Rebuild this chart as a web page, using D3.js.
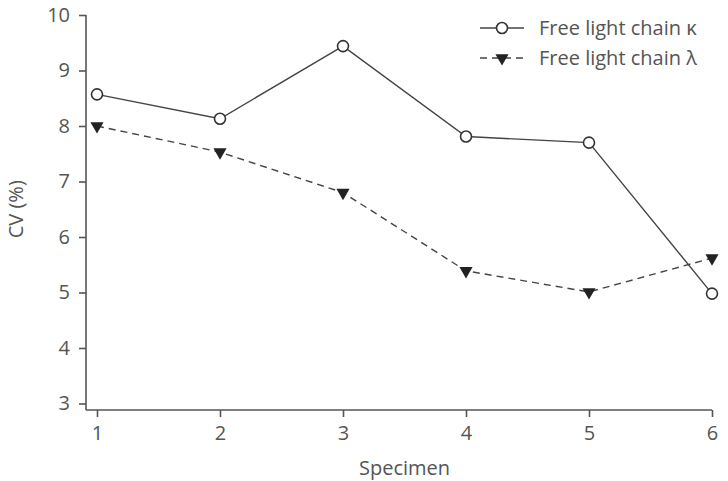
<!DOCTYPE html>
<html lang="en">
<head>
  <meta charset="UTF-8">
  <title>CV by specimen</title>
  <script src="https://d3js.org/d3.v7.min.js"></script>
  <style>
    body {
      margin: 0;
      background: #fff;
    }
    svg text {
      font-family: "Open Sans", Lato, sans-serif;
      fill: #555;
    }
  </style>
</head>
<body>

<svg id="chart" width="728" height="481"></svg>

<script>
// Data
const specimens = [1, 2, 3, 4, 5, 6];
const kappaCV = [8.57, 8.13, 9.44, 7.81, 7.70, 4.98];
const lambdaCV = [8.0, 7.53, 6.8, 5.39, 5.01, 5.62];
const yTicks = [3, 4, 5, 6, 7, 8, 9, 10];
const seriesNames = ["Free light chain \u03ba", "Free light chain \u03bb"];

const svg = d3.select("#chart");

// Scales
const x = d3.scaleLinear().domain([1, 6]).range([97, 712]);
const y = d3.scaleLinear().domain([3, 10]).range([403.5, 15]);

const axisColor = "#555";
const axisY0 = 410; // x axis sits a bit below y = 3
const fs = 20;

// Y axis
const yAxis = svg.append("g")
  .attr("transform", "translate(86,0)")
  .call(d3.axisLeft(y).tickValues(yTicks).tickFormat(d3.format("d"))
    .tickSize(7).tickPadding(9).tickSizeOuter(0));
yAxis.select(".domain").remove();
yAxis.append("line")
  .attr("x1", 0).attr("x2", 0)
  .attr("y1", y(10)).attr("y2", axisY0)
  .attr("stroke", axisColor).attr("stroke-width", 1.6);
yAxis.selectAll(".tick line").attr("stroke", axisColor).attr("stroke-width", 1.6);
yAxis.selectAll(".tick text").attr("font-size", fs).style("fill", "#555");

// X axis
const xAxis = svg.append("g")
  .attr("transform", `translate(0,${axisY0})`)
  .call(d3.axisBottom(x).tickValues(specimens).tickFormat(d3.format("d"))
    .tickSize(7).tickPadding(9).tickSizeOuter(0));
xAxis.select(".domain").remove();
xAxis.append("line")
  .attr("x1", 86).attr("x2", x(6))
  .attr("y1", 0).attr("y2", 0)
  .attr("stroke", axisColor).attr("stroke-width", 1.6);
xAxis.selectAll(".tick line").attr("stroke", axisColor).attr("stroke-width", 1.6);
xAxis.selectAll(".tick text").attr("font-size", fs).style("fill", "#555");

// Axis titles
svg.append("text")
  .attr("transform", `translate(23,${(y(10) + y(3)) / 2}) rotate(-90)`)
  .attr("text-anchor", "middle")
  .attr("font-size", fs)
  .text("CV (%)");

svg.append("text")
  .attr("x", (x(1) + x(6)) / 2)
  .attr("y", 475)
  .attr("text-anchor", "middle")
  .attr("font-size", fs)
  .text("Specimen");

// Lines
const line = d3.line()
  .x((d, i) => x(specimens[i]))
  .y(d => y(d));

svg.append("path")
  .datum(lambdaCV)
  .attr("fill", "none")
  .attr("stroke", "#444")
  .attr("stroke-width", 1.4)
  .attr("stroke-dasharray", "7,5")
  .attr("d", line);

svg.append("path")
  .datum(kappaCV)
  .attr("fill", "none")
  .attr("stroke", "#444")
  .attr("stroke-width", 1.4)
  .attr("d", line);

// Markers
const tri = d3.symbol().type(d3.symbolTriangle).size(75);

svg.selectAll(".lam")
  .data(lambdaCV)
  .join("path")
  .attr("class", "lam")
  .attr("transform", (d, i) => `translate(${x(specimens[i])},${y(d)}) rotate(180)`)
  .attr("d", tri)
  .attr("fill", "#222");

svg.selectAll(".kap")
  .data(kappaCV)
  .join("circle")
  .attr("class", "kap")
  .attr("cx", (d, i) => x(specimens[i]))
  .attr("cy", d => y(d))
  .attr("r", 5.5)
  .attr("fill", "#fff")
  .attr("stroke", "#333")
  .attr("stroke-width", 1.6);

// Legend
const legend = svg.append("g").attr("transform", "translate(480,28)");

legend.append("line")
  .attr("x1", 0).attr("x2", 44).attr("y1", 0).attr("y2", 0)
  .attr("stroke", "#444").attr("stroke-width", 1.4);
legend.append("circle")
  .attr("cx", 22).attr("cy", 0).attr("r", 5.5)
  .attr("fill", "#fff").attr("stroke", "#333").attr("stroke-width", 1.6);
legend.append("text")
  .attr("x", 59).attr("y", 7)
  .attr("font-size", fs)
  .text(seriesNames[0]);

legend.append("line")
  .attr("x1", 0).attr("x2", 44).attr("y1", 30).attr("y2", 30)
  .attr("stroke", "#444").attr("stroke-width", 1.4)
  .attr("stroke-dasharray", "7,5");
legend.append("path")
  .attr("transform", "translate(22,30) rotate(180)")
  .attr("d", tri)
  .attr("fill", "#222");
legend.append("text")
  .attr("x", 59).attr("y", 37)
  .attr("font-size", fs)
  .text(seriesNames[1]);
</script>

</body>
</html>
